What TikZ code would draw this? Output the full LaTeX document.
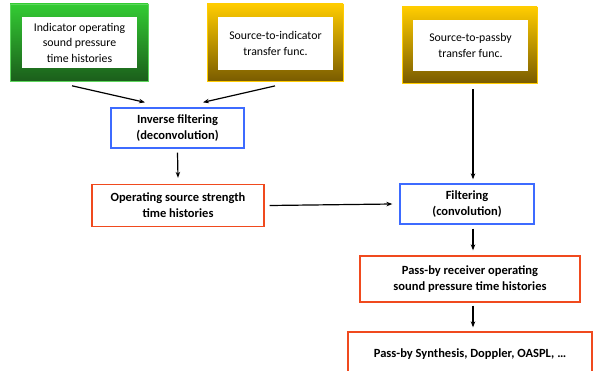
\documentclass[tikz,border=0pt]{standalone}
\usepackage{fontspec}
\setmainfont{Carlito}
\usetikzlibrary{arrows.meta}
\definecolor{gtop}{HTML}{33CC33}
\definecolor{gbot}{HTML}{1B5E1B}
\definecolor{ytop}{HTML}{FFCC00}
\definecolor{ybot}{HTML}{7A5C00}
\definecolor{bluebd}{HTML}{3D6BFF}
\definecolor{redbd}{HTML}{F04A1E}
\begin{document}
\begin{tikzpicture}[x=1pt,y=-1pt,
  greenframe/.style={rectangle, inner sep=0pt, top color=gtop, bottom color=gbot, draw=gtop!80!white, line width=0.6pt},
  yellowframe/.style={rectangle, inner sep=0pt, top color=ytop, bottom color=ybot, draw=ytop, line width=0.8pt},
  inner/.style={rectangle, fill=white, inner sep=0pt, align=center, font=\fontsize{11.8}{15.5}\selectfont},
  bluebox/.style={rectangle, draw=bluebd, line width=1.3pt, fill=white, inner sep=0pt, align=center, font=\fontsize{12.5}{16}\selectfont\bfseries},
  redbox/.style={rectangle, draw=redbd, line width=1.3pt, fill=white, inner sep=0pt, align=center, font=\fontsize{12.5}{16}\selectfont\bfseries},
  arr/.style={draw=black, line width=1.2pt, -{Stealth[length=6pt,width=4.5pt]}}
]
\clip (0,0) rectangle (596,371);
\fill[white] (0,0) rectangle (596,371);
% top frames
\node[greenframe, minimum width=138pt, minimum height=77pt] (g) at (79,42.5) {};
\node[inner, minimum width=115pt, minimum height=51pt] (gi) at (79.5,42.5) {Indicator operating\\sound pressure\\time histories};
\node[yellowframe, minimum width=136pt, minimum height=77pt] (y1) at (275,42.5) {};
\node[inner, minimum width=115pt, minimum height=53pt] (y1i) at (275.5,43.5) {Source-to-indicator\\transfer func.};
\node[yellowframe, minimum width=135pt, minimum height=76pt] (y2) at (469.5,45) {};
\node[inner, minimum width=115pt, minimum height=51pt] (y2i) at (470.5,45.5) {Source-to-passby\\transfer func.};
% process boxes
\node[bluebox, minimum width=133pt, minimum height=40pt] (inv) at (177.5,128) {Inverse filtering\\(deconvolution)};
\node[redbox, minimum width=172pt, minimum height=42pt] (op) at (178,205.5) {Operating source strength\\time histories};
\node[bluebox, minimum width=134pt, minimum height=40pt] (filt) at (467,204) {Filtering\\(convolution)};
\node[redbox, minimum width=220pt, minimum height=46pt] (pr) at (470,279) {Pass-by receiver operating\\sound pressure time histories};
\node[redbox, minimum width=244pt, minimum height=44pt] (last) at (470,354) {Pass-by Synthesis, Doppler, OASPL, \dots};
% connectors
\draw[arr] ([shift={(-7,4.5)}]g.south) -- ([shift={(-32.5,-5)}]inv.north);
\draw[arr] ([shift={(0,4.5)}]y1.south) -- ([shift={(25.5,-5)}]inv.north);
\draw[arr] ([shift={(0,4)}]inv.south) -- ([shift={(0,-6)}]op.north);
\draw[arr] ([xshift=5]op.east) -- ([xshift=-7]filt.west);
\draw[arr] ([shift={(3.5,6)}]y2.south) -- ([shift={(6,-4)}]filt.north);
\draw[arr] ([shift={(6,4)}]filt.south) -- ([shift={(3,-5)}]pr.north);
\draw[arr] ([shift={(3,3)}]pr.south) -- ([shift={(3,-4)}]last.north);
\end{tikzpicture}
\end{document}
